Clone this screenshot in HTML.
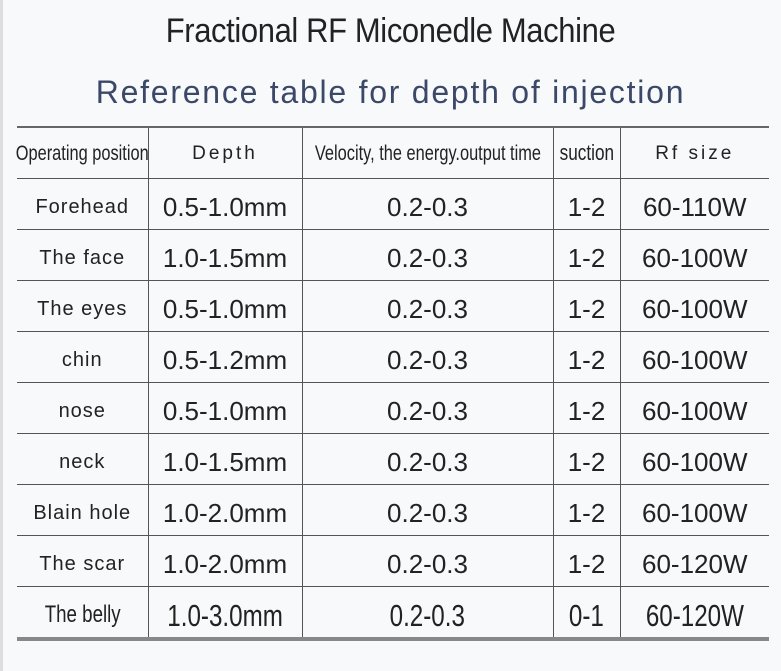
<!DOCTYPE html>
<html><head><style>
body{margin:0;width:781px;height:671px;background:#f8f9fb;font-family:"Liberation Sans",sans-serif;position:relative;overflow:hidden}
.t1{position:absolute;top:12px;left:0;width:781px;text-align:center;font-size:34px;color:#222;letter-spacing:-0.4px;transform:scaleX(0.91)}
.t2{position:absolute;top:74px;left:0;width:781px;text-align:center;font-size:32px;color:#3b4868;letter-spacing:1.75px}
table{position:absolute;left:17px;top:126px;border-collapse:collapse;width:752px;table-layout:fixed}
td{border:1.5px solid #555;text-align:center;padding:6px 0 0 0;height:44px;font-size:26px;color:#222;white-space:nowrap;overflow:visible;line-height:1}
tr td:first-child{border-left:none;font-size:20px;letter-spacing:1px}
tr td:last-child{border-right:none}
tr:first-child td{border-top:2px solid #666;height:50px;font-size:19px;padding:0}
tr:last-child td{border-bottom:4px solid #888}
.n{display:inline-block;transform:scaleX(0.78);letter-spacing:0}
.sp{letter-spacing:3px}
.edge{position:absolute;left:0;top:0;width:3px;height:671px;background:#ddd}
</style></head><body>
<div class="edge"></div>
<div class="t1">Fractional RF Miconedle Machine</div>
<div class="t2">Reference table for depth of injection</div>
<table>
<colgroup><col style="width:131px"><col style="width:154px"><col style="width:251px"><col style="width:67px"><col style="width:149px"></colgroup>
<tr><td style="letter-spacing:0;font-size:21px"><span class="n" style="margin:0 -20px">Operating position</span></td><td class="sp">Depth</td><td style="font-size:21px"><span class="n" style="margin:0 -30px">Velocity, the energy.output time</span></td><td style="font-size:22px"><span class="n" style="margin:0 -10px">suction</span></td><td class="sp">Rf size</td></tr>
<tr><td>Forehead</td><td>0.5-1.0mm</td><td>0.2-0.3</td><td>1-2</td><td>60-110W</td></tr>
<tr><td>The face</td><td>1.0-1.5mm</td><td>0.2-0.3</td><td>1-2</td><td>60-100W</td></tr>
<tr><td>The eyes</td><td>0.5-1.0mm</td><td>0.2-0.3</td><td>1-2</td><td>60-100W</td></tr>
<tr><td>chin</td><td>0.5-1.2mm</td><td>0.2-0.3</td><td>1-2</td><td>60-100W</td></tr>
<tr><td>nose</td><td>0.5-1.0mm</td><td>0.2-0.3</td><td>1-2</td><td>60-100W</td></tr>
<tr><td>neck</td><td>1.0-1.5mm</td><td>0.2-0.3</td><td>1-2</td><td>60-100W</td></tr>
<tr><td>Blain hole</td><td>1.0-2.0mm</td><td>0.2-0.3</td><td>1-2</td><td>60-100W</td></tr>
<tr><td>The scar</td><td>1.0-2.0mm</td><td>0.2-0.3</td><td>1-2</td><td>60-120W</td></tr>
<tr><td style="letter-spacing:0"><span class="n" style="font-size:24px">The belly</span></td><td><span class="n" style="font-size:31px;margin:0 -10px">1.0-3.0mm</span></td><td><span class="n" style="font-size:31px">0.2-0.3</span></td><td><span class="n" style="font-size:31px">0-1</span></td><td><span class="n" style="font-size:31px;margin:0 -10px">60-120W</span></td></tr>
</table>
</body></html>
